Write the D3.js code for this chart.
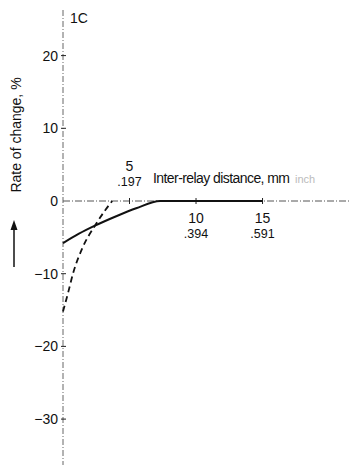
<!DOCTYPE html>
<html>
<head>
<meta charset="utf-8">
<script src="https://cdn.jsdelivr.net/npm/d3@7"></script>
<style>
  body { margin: 0; background: #fff; }
  text { font-family: "Liberation Sans", Arial, sans-serif; fill: #111; }
</style>
</head>
<body>
<div id="chart"></div>
<script>
// values (mm, %)
const yTicks = [20, 10, 0, -10, -20, -30];
const xTicks = [5, 10, 15];
const xTickInch = [".197", ".394", ".591"];
const solidX = [0, 1.2, 2.4, 4, 5.5, 7.3, 15];
const solidY = [-5.8, -4.5, -3.4, -2.1, -1.0, 0, 0];
const dashX = [0, 0.4, 0.75, 1.5, 2.4, 3.2, 3.7];
const dashY = [-15.2, -12.5, -10, -6.3, -3.4, -1.2, 0];

const W = 349, H = 465;
const svg = d3.select("#chart").append("svg").attr("width", W).attr("height", H);

const x = d3.scaleLinear().domain([0, 21.5]).range([63, 349]);
const y = d3.scaleLinear().domain([0, 10]).range([201, 128.3]);

// axes as broken lines
svg.append("line")
    .attr("x1", x(0)).attr("x2", x(0))
    .attr("y1", 10).attr("y2", 465)
    .attr("stroke", "#666").attr("stroke-width", 1)
    .attr("stroke-dasharray", "6,2,1,2");
svg.append("line")
    .attr("x1", x(0)).attr("x2", W)
    .attr("y1", y(0)).attr("y2", y(0))
    .attr("stroke", "#555").attr("stroke-width", 1)
    .attr("stroke-dasharray", "7,2,1,2");

// y ticks
const yAxis = d3.axisLeft(y).tickValues(yTicks).tickSize(0).tickPadding(5)
    .tickFormat(d => d < 0 ? "\u2212" + Math.abs(d) : d);
const gy = svg.append("g").attr("transform", `translate(${x(0)},0)`).call(yAxis);
gy.select(".domain").remove();
gy.selectAll("text").style("font-size", "14px").attr("font-family", null);
svg.selectAll(".ytick").data(yTicks.filter(d => d !== 0)).enter().append("line")
    .attr("x1", x(0) - 2).attr("x2", x(0) + 3)
    .attr("y1", d => y(d)).attr("y2", d => y(d))
    .attr("stroke", "#222");

// x ticks
svg.selectAll(".xtick").data(xTicks).enter().append("line")
    .attr("x1", d => x(d)).attr("x2", d => x(d))
    .attr("y1", y(0) - 3).attr("y2", y(0) + 3)
    .attr("stroke", "#222");
xTicks.forEach((d, i) => {
    const above = i === 0;
    svg.append("text").attr("x", x(d)).attr("y", above ? 171 : 223)
        .attr("text-anchor", "middle").style("font-size", "14px").text(d);
    svg.append("text").attr("x", x(d)).attr("y", above ? 186 : 238)
        .attr("text-anchor", "middle").style("font-size", "12.5px").text(xTickInch[i]);
});

// curves
const line = d3.line().x(d => x(d[0])).y(d => y(d[1])).curve(d3.curveMonotoneX);
svg.append("path")
    .datum(solidX.map((v, i) => [v, solidY[i]]))
    .attr("fill", "none").attr("stroke", "#111").attr("stroke-width", 2)
    .attr("d", line);
svg.append("path")
    .datum(dashX.map((v, i) => [v, dashY[i]]))
    .attr("fill", "none").attr("stroke", "#111").attr("stroke-width", 1.8)
    .attr("stroke-dasharray", "6,4")
    .attr("d", line);

// labels
svg.append("text").attr("x", 70).attr("y", 23).style("font-size", "14px").text("1C");
svg.append("text").attr("x", 153).attr("y", 183).style("font-size", "14px")
    .attr("textLength", 137).text("Inter-relay distance, mm");
svg.append("text").attr("x", 295).attr("y", 183).style("font-size", "11px")
    .style("fill", "#bbb").text("inch");

svg.append("text")
    .attr("transform", "translate(21,135) rotate(-90)")
    .attr("text-anchor", "middle").style("font-size", "14px")
    .text("Rate of change, %");

// arrow under the y label
svg.append("line").attr("x1", 14).attr("x2", 14).attr("y1", 267).attr("y2", 228)
    .attr("stroke", "#111").attr("stroke-width", 1.5);
svg.append("path").attr("d", "M14,220 L10.5,230 L17.5,230 Z").attr("fill", "#111");
</script>
</body>
</html>
